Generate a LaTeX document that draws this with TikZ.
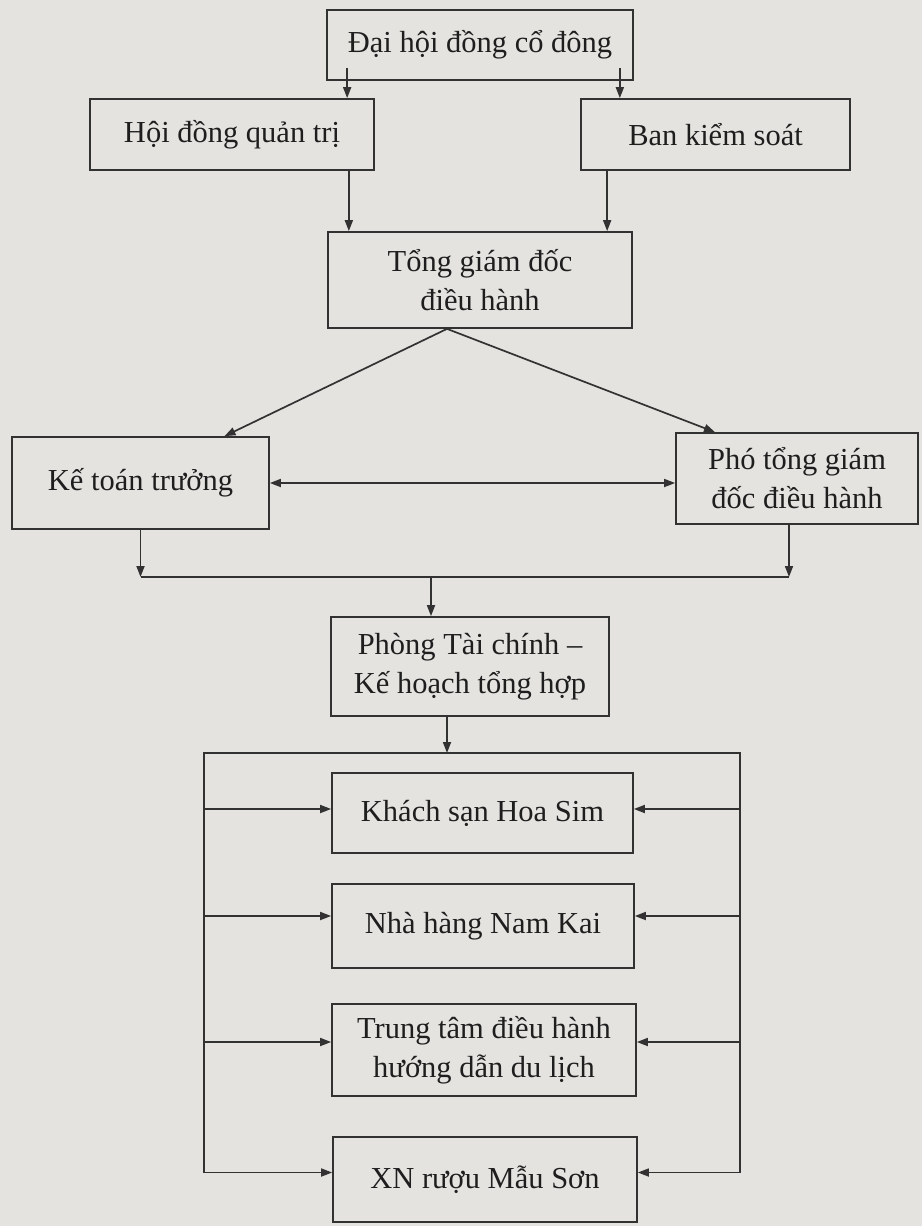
\documentclass[tikz,border=0pt]{standalone}
\usepackage{fontspec}
\setmainfont{Liberation Serif}
\usetikzlibrary{arrows.meta}
\definecolor{bg}{RGB}{229,227,224}
\definecolor{ink}{RGB}{50,50,50}
\definecolor{txt}{RGB}{30,30,30}
\tikzset{
  box/.style={draw=ink, line width=1.7pt, inner sep=0pt, align=center, text=txt,
    font=\fontsize{30.5}{39}\selectfont},
  conn/.style={draw=ink, line width=1.7pt},
  arr/.style={conn, -{Triangle[length=11pt,width=8pt]}},
  darr/.style={conn, {Triangle[length=11pt,width=8pt]}-{Triangle[length=11pt,width=8pt]}}
}
\begin{document}
\begin{tikzpicture}[x=1pt,y=-1pt]
\fill[bg] (0,0) rectangle (922,1226);
\useasboundingbox (0,0) rectangle (922,1226);

\node[box, minimum width=306pt, minimum height=70pt] (dh) at (480,45) {Đại hội đồng cổ đông};
\node[box, minimum width=284pt, minimum height=71pt] (hdqt) at (232,134.5) {Hội đồng quản trị};
\node[box, minimum width=269pt, minimum height=71pt] (bks) at (715.5,134.5) {Ban kiểm soát};
\node[box, minimum width=304pt, minimum height=96pt] (tgd) at (480,280) {Tổng giám đốc\\điều hành};
\node[box, minimum width=257pt, minimum height=92pt] (ktt) at (140.5,483) {Kế toán trưởng};
\node[box, minimum width=242pt, minimum height=91pt] (ptgd) at (797,478.5) {Phó tổng giám\\đốc điều hành};
\node[box, minimum width=278pt, minimum height=99pt] (ptc) at (470,666.5) {Phòng Tài chính –\\Kế hoạch tổng hợp};
\node[box, minimum width=301pt, minimum height=80pt] (ks) at (482.5,813) {Khách sạn Hoa Sim};
\node[box, minimum width=302pt, minimum height=84pt] (nh) at (483,926) {Nhà hàng Nam Kai};
\node[box, minimum width=304pt, minimum height=92pt] (tt) at (484,1050) {Trung tâm điều hành\\hướng dẫn du lịch};
\node[box, minimum width=304pt, minimum height=85pt] (xn) at (485,1179.5) {XN rượu Mẫu Sơn};

% top level
\coordinate (a1) at ([xshift=21pt,yshift=13pt]dh.south west);
\coordinate (a2) at ([xshift=-14pt,yshift=13pt]dh.south east);
\draw[arr] (a1) -- (a1 |- hdqt.north);
\draw[arr] (a2) -- (a2 |- bks.north);
\coordinate (b1) at ([xshift=-26pt]hdqt.south east);
\coordinate (b2) at ([xshift=27pt]bks.south west);
\draw[arr] (b1) -- (b1 |- tgd.north);
\draw[arr] (b2) -- (b2 |- tgd.north);

% diagonals
\coordinate (apex) at ([xshift=-33pt]tgd.south);
\draw[arr] (apex) -- ([xshift=84pt]ktt.north);
\draw[arr] (apex) -- ([xshift=-82pt]ptgd.north);
\draw[darr] (ktt.east) -- (ktt.east -| ptgd.west);

% merge
\coordinate (m1) at (141,577);
\coordinate (m2) at (789,577);
\coordinate (m3) at (431,577);
\draw[arr] (ktt.south) -- (ktt.south |- m1);
\draw[arr] (m2 |- ptgd.south) -- (m2);
\draw[conn] (m1) -- (m2);
\draw[arr] (m3) -- (m3 |- ptc.north);

% frame
\coordinate (fTL) at (204,753);
\coordinate (fTR) at (740,753);
\coordinate (p1) at ([xshift=-23pt]ptc.south);
\draw[arr] (p1) -- (p1 |- fTL);
\coordinate (ksL) at ([yshift=4pt]ks.west);
\coordinate (ksR) at ([yshift=4pt]ks.east);
\coordinate (nhL) at ([yshift=10pt]nh.west);
\coordinate (nhR) at ([yshift=10pt]nh.east);
\coordinate (ttL) at ([yshift=8pt]tt.west);
\coordinate (ttR) at ([yshift=8pt]tt.east);
\coordinate (xnL) at ([yshift=7pt]xn.west);
\coordinate (xnR) at ([yshift=7pt]xn.east);
\draw[conn] (xnL -| fTL) -- (fTL) -- (fTR) -- (xnR -| fTR);
\foreach \n in {ks,nh,tt,xn} {
  \draw[arr] (\n L -| fTL) -- (\n L);
  \draw[arr] (\n R -| fTR) -- (\n R);
}
\end{tikzpicture}
\end{document}
